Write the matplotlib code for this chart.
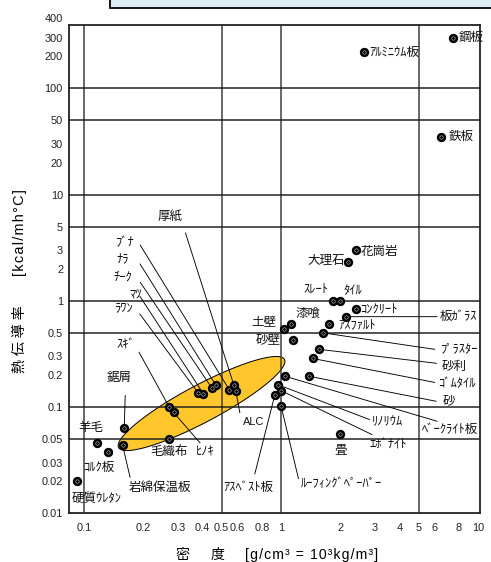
import numpy as np
import matplotlib
matplotlib.use("Agg")
import matplotlib.pyplot as plt
from matplotlib.patches import Rectangle
from matplotlib import transforms

plt.rcParams['font.family'] = ['Liberation Sans', 'Noto Sans CJK JP', 'DejaVu Sans']

# ---- data: material, density [g/cm3], thermal conductivity [kcal/mh°C] ----
materials = ['鋼板', 'ｱﾙﾐﾆｳﾑ板', '鉄板', '花崗岩', '大理石', 'ｽﾚｰﾄ', 'ﾀｲﾙ',
             'ｺﾝｸﾘｰﾄ', '板ｶﾞﾗｽ', '漆喰', '土壁', 'ｱｽﾌｧﾙﾄ', '砂壁', 'ﾌﾟﾗｽﾀｰ',
             '砂利', 'ｺﾞﾑﾀｲﾙ', '砂', 'ﾍﾞｰｸﾗｲﾄ板', 'ﾘﾉﾘｳﾑ', 'ｴﾎﾞﾅｲﾄ',
             'ｱｽﾍﾞｽﾄ板', 'ﾙｰﾌｨﾝｸﾞﾍﾟｰﾊﾟｰ', '畳', '毛織布', 'ﾋﾉｷ', 'ｽｷﾞ',
             '鋸屑', '岩綿保温板', '羊毛', 'ｺﾙｸ板', '硬質ｳﾚﾀﾝ', '厚紙',
             'ﾌﾞﾅ', 'ﾅﾗ', 'ﾁｰｸ', 'ﾏﾂ', 'ﾗﾜﾝ', 'ALC']
density = [7.5, 2.65, 6.5, 2.4, 2.2, 1.83, 2.0,
           2.4, 2.14, 1.12, 1.03, 1.76, 1.15, 1.63,
           1.56, 1.45, 1.39, 1.05, 0.96, 1.0,
           0.93, 1.0, 2.0, 0.27, 0.285, 0.27,
           0.16, 0.157, 0.116, 0.133, 0.0925, 0.577,
           0.546, 0.468, 0.445, 0.403, 0.38, 0.59]
conductivity = [300, 220, 35, 3.0, 2.3, 1.0, 1.0,
                0.84, 0.71, 0.6, 0.54, 0.6, 0.43, 0.5,
                0.35, 0.287, 0.195, 0.195, 0.163, 0.143,
                0.13, 0.103, 0.056, 0.05, 0.089, 0.101,
                0.063, 0.0436, 0.0456, 0.038, 0.02, 0.16,
                0.146, 0.16, 0.152, 0.134, 0.136, 0.141]

# shaded band of fibrous / wooden materials: centre and semi-axes (decades)
band_center = (0.395, 0.108)
band_major = (0.421, 0.415)
band_minor = (-0.044, 0.155)

x_ticks = [0.1, 0.2, 0.3, 0.4, 0.5, 0.6, 0.8, 1, 2, 3, 4, 5, 6, 8, 10]
x_ticklabels = ['0.1', '0.2', '0.3', '0.4', '0.5', '0.6', '0.8', '1',
                '2', '3', '4', '5', '6', '8', '10']
y_ticks = [0.01, 0.02, 0.03, 0.05, 0.1, 0.2, 0.3, 0.5, 1, 2, 3, 5,
           10, 20, 30, 50, 100, 200, 300, 400]
y_ticklabels = ['0.01', '0.02', '0.03', '0.05', '0.1', '0.2', '0.3', '0.5',
                '1', '2', '3', '5', '10', '20', '30', '50', '100', '200',
                '300', '400']
x_grid = [0.1, 0.5, 1, 5]
y_grid = [0.05, 0.1, 0.5, 1, 5, 10, 50, 100]
x_minor = [0.2, 0.3, 0.4, 0.6, 0.8, 2, 3, 4, 6, 8]
y_minor = [0.02, 0.03, 0.2, 0.3, 2, 3, 20, 30, 200, 300]

# label placement: (leader end offset or None, text offset, alignment) in points
layout = {
    '鋼板': (None, (5, 0), 'left'),
    'ｱﾙﾐﾆｳﾑ板': (None, (5, -1), 'left'),
    '鉄板': (None, (8, 0), 'left'),
    '花崗岩': (None, (5, -1.5), 'left'),
    '大理石': (None, (-3, 1), 'right'),
    'ｽﾚｰﾄ': (None, (-17, 10), 'center'),
    'ﾀｲﾙ': (None, (13, 10), 'center'),
    'ｺﾝｸﾘｰﾄ': (None, (4, -1), 'left'),
    '板ｶﾞﾗｽ': ((91, 0), (94, -0.5), 'left'),
    '漆喰': (None, (17, 10.5), 'center'),
    '土壁': (None, (-20, 7.5), 'center'),
    'ｱｽﾌｧﾙﾄ': (None, (8.5, -1.5), 'left'),
    '砂壁': (None, (-25, 0), 'center'),
    'ﾌﾟﾗｽﾀｰ': ((112, -16.5), (117, -16), 'left'),
    '砂利': ((117.5, -14), (123, -18), 'left'),
    'ｺﾞﾑﾀｲﾙ': ((122, -24), (125.5, -26), 'left'),
    '砂': ((127, -25), (134, -25), 'left'),
    'ﾍﾞｰｸﾗｲﾄ板': ((152, -45), (165, -54), 'center'),
    'ﾘﾉﾘｳﾑ': ((92, -35), (94, -37), 'left'),
    'ｴﾎﾞﾅｲﾄ': ((91, -44), (89, -55), 'left'),
    'ｱｽﾍﾞｽﾄ板': ((-20, -79), (-27, -93), 'center'),
    'ﾙｰﾌｨﾝｸﾞﾍﾟｰﾊﾟｰ': ((17.5, -73), (19.5, -78), 'left'),
    '畳': (None, (0, -17), 'center'),
    '毛織布': (None, (0, -12.5), 'center'),
    'ﾋﾉｷ': ((26.5, -30.5), (31.5, -40.5), 'center'),
    'ｽｷﾞ': ((-30, 54.5), (-43, 61), 'center'),
    '鋸屑': ((1, 33), (-4.5, 50), 'center'),
    '岩綿保温板': ((7.5, -32), (37.5, -42), 'center'),
    '羊毛': (None, (-5.5, 15.5), 'center'),
    'ｺﾙｸ板': (None, (-10, -16.5), 'center'),
    '硬質ｳﾚﾀﾝ': (None, (19.5, -17.5), 'center'),
    '厚紙': ((-48.5, 152.5), (-63.5, 169), 'center'),
    'ﾌﾞﾅ': ((-89, 144.5), (-105, 146.5), 'center'),
    'ﾅﾗ': ((-76, 121.5), (-93, 125.5), 'center'),
    'ﾁｰｸ': ((-71.5, 105.5), (-89, 109.5), 'center'),
    'ﾏﾂ': ((-63.5, 97.5), (-68, 99), 'center'),
    'ﾗﾜﾝ': ((-58.5, 79), (-74.5, 84.5), 'center'),
    'ALC': ((4, -21.5), (18, -30.5), 'center'),
}

W, H = 491, 562
fig = plt.figure(figsize=(W / 72, H / 72), dpi=72)
fig.patch.set_facecolor('white')
ax = fig.add_axes([69 / W, (H - 513.3) / H, (480 - 69) / W, (513.3 - 24.5) / H])
ax.set_xscale('log')
ax.set_yscale('log')
ax.set_xlim(0.0839, 10.24)
ax.set_ylim(0.01, 400)

# grid
for gx in x_grid:
    ax.axvline(gx, color='#3a3a3a', lw=1.5, zorder=2)
for gy in y_grid:
    ax.axhline(gy, color='#1e1e1e', lw=1.5, zorder=2)

# shaded band (ellipse in log-log space)
t = np.linspace(0, 2 * np.pi, 400)
c = np.log10(band_center)
pts = (c[:, None] + np.outer(band_major, np.cos(t))
       + np.outer(band_minor, np.sin(t)))
ax.fill(10 ** pts[0], 10 ** pts[1], facecolor='#FFC72C', edgecolor='black',
        lw=1.0, zorder=1)

# ticks
ax.xaxis.set_major_locator(matplotlib.ticker.FixedLocator(x_ticks))
ax.xaxis.set_major_formatter(matplotlib.ticker.FixedFormatter(x_ticklabels))
ax.yaxis.set_major_locator(matplotlib.ticker.FixedLocator(y_ticks))
ax.yaxis.set_major_formatter(matplotlib.ticker.FixedFormatter(y_ticklabels))
ax.xaxis.set_minor_locator(matplotlib.ticker.FixedLocator(x_minor))
ax.yaxis.set_minor_locator(matplotlib.ticker.FixedLocator(y_minor))
ax.xaxis.set_minor_formatter(matplotlib.ticker.NullFormatter())
ax.yaxis.set_minor_formatter(matplotlib.ticker.NullFormatter())
ax.tick_params(which='major', length=0, labelsize=11, labelcolor='#222222')
ax.tick_params(axis='x', which='major', pad=10)
ax.tick_params(axis='y', which='major', pad=6)
ax.tick_params(which='minor', direction='in', length=9.5, width=1.5,
               color='#222222')
for lab in ax.get_yticklabels():
    if lab.get_text() == '400':
        lab.set_transform(lab.get_transform() +
                          transforms.ScaledTranslation(0, 7 / 72, fig.dpi_scale_trans))

for sp in ax.spines.values():
    sp.set_linewidth(1.8)
    sp.set_color('#222222')
    sp.set_zorder(6)

# leader lines, markers and labels
for name, x, y in zip(materials, density, conductivity):
    line_off, text_off, ha = layout[name]
    if line_off is not None:
        ax.annotate('', xy=(x, y), xytext=line_off, textcoords='offset points',
                    arrowprops=dict(arrowstyle='-', color='black', lw=0.9,
                                    shrinkA=0, shrinkB=0), zorder=3)
    fs = 11 if name == 'ALC' else 12.5
    ax.annotate(name, xy=(x, y), xytext=text_off, textcoords='offset points',
                ha=ha, va='center', fontsize=fs, color='#111111', zorder=7,
                annotation_clip=False)

ax.plot(density, conductivity, 'o', ms=8.3, mfc='black', mec='black',
        zorder=4, clip_on=False)
ax.plot(density, conductivity, 'o', ms=3.4, mfc='none', mec='white',
        mew=0.45, zorder=5, clip_on=False)

# axis titles
hair = '\u200a'
fig.text(182 / W, 1 - 555 / H, '密', fontsize=14, ha='center', va='center')
fig.text(218 / W, 1 - 555 / H, '度', fontsize=14, ha='center', va='center')
fig.text(245 / W, 1 - 555 / H, hair.join('[g/cm³ = 10³kg/m³]'), fontsize=14,
         ha='left', va='center')
fig.text(20 / W, 1 - 339 / H, '熱 伝 導 率', fontsize=14, rotation=90,
         ha='center', va='center')
fig.text(20 / W, 1 - 233 / H, hair.join('[kcal/mh°C]'), fontsize=14.5,
         rotation=90, ha='center', va='center')

# header box
fig.add_artist(Rectangle((110 / W, 1 - 8.3 / H), 400 / W, 20 / H,
                         transform=fig.transFigure, facecolor='#dcecf2',
                         edgecolor='black', lw=1.8, clip_on=False))

fig.savefig('out.png', dpi=72)
